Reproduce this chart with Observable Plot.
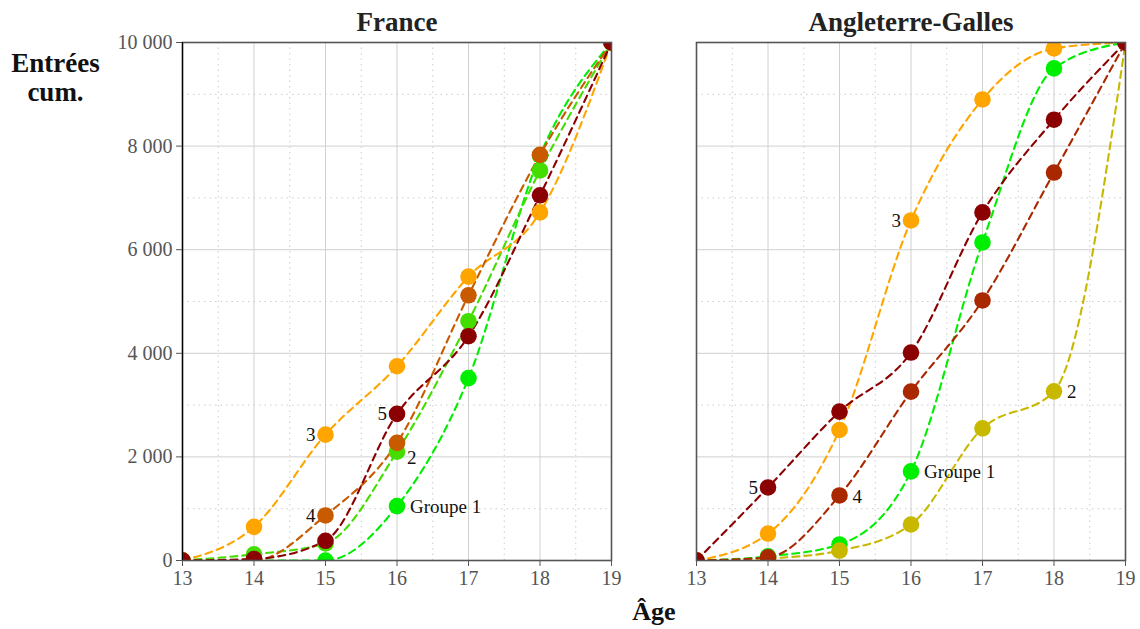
<!DOCTYPE html>
<html>
<head>
<meta charset="utf-8">
<script src="https://cdn.jsdelivr.net/npm/d3@7"></script>
<script src="https://cdn.jsdelivr.net/npm/@observablehq/plot@0.6"></script>
<style>
  html, body { margin: 0; padding: 0; background: #fff; }
  #wrap { position: relative; width: 1140px; height: 629px; overflow: hidden; font-family: "Liberation Serif", serif; }
  #xlabel { position: absolute; left: 654px; top: 599px; transform: translateX(-50%); font-weight: bold; font-size: 26px; line-height: 1; color: #111; }
</style>
</head>
<body>
<div id="wrap"><div id="chart"></div><div id="xlabel">Âge</div></div>
<script>
const pays = ["France", "Angleterre-Galles"];
const ages = [13, 14, 15, 16, 17, 18, 19];
const groupes = ["1", "2", "3", "4", "5"];

// Entrées cumulées, France
const france1 = [0, 0, 0, 1050, 3520, 7820, 10000];
const france2 = [0, 120, 330, 2100, 4620, 7530, 10000];
const france3 = [0, 650, 2430, 3750, 5480, 6720, 10000];
const france4 = [0, 0, 870, 2270, 5120, 7830, 10000];
const france5 = [0, 30, 380, 2830, 4330, 7050, 10000];

// Entrées cumulées, Angleterre-Galles
const angl1 = [0, 80, 310, 1720, 6140, 9500, 10000];
const angl2 = [0, 40, 190, 695, 2550, 3265, 10000];
const angl3 = [0, 520, 2520, 6565, 8900, 9885, 10000];
const angl4 = [0, 60, 1255, 3260, 5020, 7490, 10000];
const angl5 = [0, 1410, 2875, 4015, 6720, 8510, 10000];

const franceColors = ["#00ee00", "#44dd00", "#ffa500", "#c85a00", "#8b0000"];
const anglColors = ["#00ee00", "#c8b900", "#ffa500", "#aa2800", "#8b0000"];

// Labels: [groupe index, age, text, side]
const franceLabels = [[0, 16, "Groupe 1", "right"], [1, 16, "2", "rightlow"], [2, 15, "3", "left"], [3, 15, "4", "left"], [4, 16, "5", "left"]];
const anglLabels = [[0, 16, "Groupe 1", "right"], [1, 18, "2", "right"], [2, 16, "3", "left"], [3, 15, "4", "right"], [4, 14, "5", "left"]];

const yMajor = [0, 2000, 4000, 6000, 8000, 10000];
const yMinor = [1000, 3000, 5000, 7000, 9000];
const xMajor = [13, 14, 15, 16, 17, 18, 19];
const xMinor = [13.5, 14.5, 15.5, 16.5, 17.5, 18.5];

const series = [
  ["France", [france1, france2, france3, france4, france5], franceColors, franceLabels],
  ["Angleterre-Galles", [angl1, angl2, angl3, angl4, angl5], anglColors, anglLabels]
];

const rows = [];
const labelRows = [];
for (const [p, vals, cols, labs] of series) {
  vals.forEach((arr, gi) => {
    arr.forEach((v, i) => rows.push({pays: p, groupe: groupes[gi], key: p + "-" + groupes[gi], age: ages[i], value: v, color: cols[gi]}));
  });
  for (const [gi, age, text, side] of labs) {
    labelRows.push({pays: p, age, value: vals[gi][ages.indexOf(age)], text, side});
  }
}

const fmt = d3.formatLocale({thousands: " ", grouping: [3], decimal: ","}).format(",d");

const chart = Plot.plot({
  width: 1140,
  height: 629,
  marginTop: 42,
  marginBottom: 69,
  marginLeft: 182,
  marginRight: 14,
  style: {fontFamily: "Liberation Serif, serif", fontSize: "20px", color: "#555", background: "#fff"},
  fx: {domain: pays, padding: 0.165, axis: null, label: null},
  x: {domain: [13, 19], ticks: xMajor, tickFormat: d => String(d), tickSize: 6, label: null, tickPadding: 4},
  y: {domain: [0, 10000], ticks: yMajor, tickFormat: fmt, tickSize: 6, label: null, tickPadding: 4},
  color: {type: "identity"},
  marks: [
    Plot.ruleX(pays.flatMap(p => xMinor.map(x => ({p, x}))), {fx: "p", x: "x", stroke: "#ccc", strokeDasharray: "1.5,4"}),
    Plot.ruleY(pays.flatMap(p => yMinor.map(y => ({p, y}))), {fx: "p", y: "y", stroke: "#ccc", strokeDasharray: "1.5,4"}),
    Plot.ruleX(pays.flatMap(p => xMajor.map(x => ({p, x}))), {fx: "p", x: "x", stroke: "#d0d0d0"}),
    Plot.ruleY(pays.flatMap(p => yMajor.map(y => ({p, y}))), {fx: "p", y: "y", stroke: "#d0d0d0"}),
    Plot.line(rows, {fx: "pays", x: "age", y: "value", z: "key", stroke: "color", curve: "monotone-x", strokeWidth: 2.1, strokeDasharray: "7,5", clip: true}),
    Plot.dot(rows, {fx: "pays", x: "age", y: "value", fill: "color", r: 8.3, stroke: null, clip: true}),
    Plot.frame({stroke: "#555", strokeWidth: 1.6}),
    Plot.ruleX(["France"], {fx: d => d, x: 13, stroke: "#000", strokeWidth: 1.2}),
    Plot.text(labelRows.filter(d => d.side === "left"), {fx: "pays", x: "age", y: "value", text: "text", textAnchor: "end", dx: -10, fill: "#111", fontSize: 19}),
    Plot.text(labelRows.filter(d => d.side === "right"), {fx: "pays", x: "age", y: "value", text: "text", textAnchor: "start", dx: 13, dy: 1, fill: "#111", fontSize: 19}),
    Plot.text(labelRows.filter(d => d.side === "rightlow"), {fx: "pays", x: "age", y: "value", text: "text", textAnchor: "start", dx: 10, dy: 6, fill: "#111", fontSize: 19}),
    Plot.text(pays, {fx: d => d, text: d => d, frameAnchor: "top", lineAnchor: "middle", dy: -20, fontSize: 27, fontWeight: "bold", fill: "#222"}),
    Plot.text(["France"], {fx: d => d, text: () => "Entrées\ncum.", frameAnchor: "top-left", dx: -127, dy: 35, textAnchor: "middle", lineAnchor: "middle", lineHeight: 1.05, fontSize: 27, fontWeight: "bold", fill: "#111"})
  ]
});
document.getElementById("chart").appendChild(chart);
</script>
</body>
</html>
